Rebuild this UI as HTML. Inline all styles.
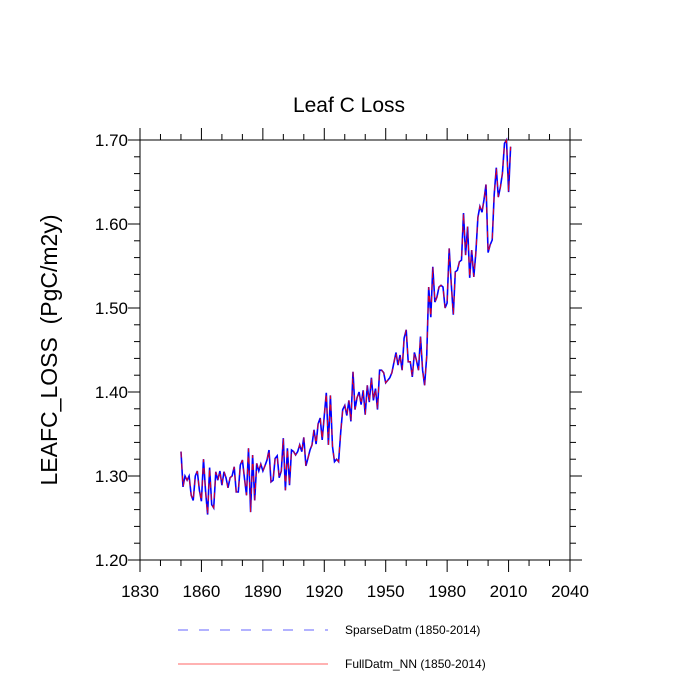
<!DOCTYPE html>
<html><head><meta charset="utf-8"><style>
body{margin:0;background:#fff;}
svg{display:block;font-family:"Liberation Sans",sans-serif;}
</style></head><body>
<svg id="chart" width="700" height="700">
<text x="349" y="112" font-size="21" text-anchor="middle">Leaf C Loss</text>
<text transform="translate(57,350) rotate(-90)" font-size="23" text-anchor="middle" style="white-space:pre" xml:space="preserve">LEAFC_LOSS  (PgC/m2y)</text>
<g id="axes"></g>
<g id="series"></g>
<g>
<line x1="178" y1="630" x2="328" y2="630" stroke="#6666ff" stroke-dasharray="10,11" stroke-width="1"/>
<text x="345" y="634" font-size="12">SparseDatm (1850-2014)</text>
<line x1="178" y1="664" x2="328" y2="664" stroke="#ff6666" stroke-width="1"/>
<text x="345" y="668" font-size="12">FullDatm_NN (1850-2014)</text>
</g>
</svg>
<script>
const startYear = 1850;
const fullValues = [1.329,1.287,1.300,1.295,1.300,1.277,1.271,1.300,1.306,1.283,1.270,1.320,1.283,1.254,1.310,1.266,1.262,1.305,1.295,1.306,
1.289,1.305,1.298,1.286,1.298,1.300,1.311,1.281,1.281,1.313,1.319,1.298,1.277,1.333,1.257,1.325,1.271,1.315,1.306,1.314,
1.306,1.312,1.319,1.331,1.293,1.295,1.321,1.324,1.298,1.306,1.345,1.283,1.333,1.289,1.331,1.329,1.325,1.329,1.337,1.329,
1.346,1.312,1.321,1.331,1.337,1.355,1.338,1.362,1.369,1.343,1.372,1.399,1.337,1.396,1.335,1.317,1.320,1.317,1.352,1.379,
1.384,1.372,1.390,1.365,1.424,1.379,1.393,1.400,1.385,1.402,1.373,1.408,1.388,1.417,1.390,1.404,1.379,1.426,1.426,1.423,
1.411,1.414,1.417,1.423,1.435,1.447,1.432,1.444,1.426,1.464,1.474,1.436,1.436,1.418,1.447,1.438,1.426,1.466,1.426,1.408,
1.442,1.525,1.489,1.549,1.507,1.513,1.525,1.527,1.525,1.500,1.506,1.571,1.530,1.492,1.543,1.545,1.555,1.557,1.613,1.563,
1.597,1.536,1.569,1.537,1.565,1.608,1.621,1.614,1.629,1.647,1.566,1.575,1.581,1.635,1.667,1.632,1.644,1.660,1.696,1.700,
1.638,1.692];
const sparseValues = fullValues.map(v => v);
const xTicks = [1830,1860,1890,1920,1950,1980,2010,2040];
const yTicks = [1.20,1.30,1.40,1.50,1.60,1.70];

const L=140,R=570,T=140,B=560,xMin=1830,xMax=2040,yMin=1.2,yMax=1.7;
const xs = y => L + (y-xMin)/(xMax-xMin)*(R-L);
const ys = v => B - (v-yMin)/(yMax-yMin)*(B-T);
const NS="http://www.w3.org/2000/svg";
function mk(tag, attrs, parent){const e=document.createElementNS(NS,tag);for(const k in attrs)e.setAttribute(k,attrs[k]);parent.appendChild(e);return e;}
const axes=document.getElementById('axes');
const frame=mk('rect',{x:L,y:T,width:R-L,height:B-T,fill:'none',stroke:'#000','stroke-width':1},axes);


for(let yr=xMin; yr<=xMax; yr+=10){
  const major=(yr-xMin)%30===0, len=major?12:6, x=xs(yr);
  const t1=mk('line',{x1:x,y1:B,x2:x,y2:B+len,stroke:'#000'},axes);
  
  
  const t2=mk('line',{x1:x,y1:T,x2:x,y2:T-len,stroke:'#000'},axes);
  
  
}
xTicks.forEach(v=>{
  const t=mk('text',{x:xs(v),y:B+37,'font-size':17,'text-anchor':'middle'},axes);t.textContent=v;
  
  
});
for(let i=0;i<=25;i++){
  const v=yMin+i*0.02, major=i%5===0, len=major?12:6, y=ys(v);
  const t1=mk('line',{x1:L,y1:y,x2:L-len,y2:y,stroke:'#000'},axes);
  
  
  const t2=mk('line',{x1:R,y1:y,x2:R+len,y2:y,stroke:'#000'},axes);
  
  
}
yTicks.forEach(v=>{
  const t=mk('text',{x:L-12,y:ys(v)+6,'font-size':17,'text-anchor':'end'},axes);t.textContent=v.toFixed(2);
  
  
});
const series=document.getElementById('series');
function pts(arr){return arr.map((v,i)=>xs(startYear+i).toFixed(1)+','+ys(v).toFixed(1)).join(' ');}
const sp=mk('polyline',{points:pts(sparseValues),fill:'none',stroke:'#0000ff','stroke-width':1.6},series);


const fl=mk('polyline',{points:pts(fullValues),fill:'none',stroke:'#ff0000','stroke-width':1,'stroke-dasharray':'6,6','stroke-opacity':0.85},series);


</script>
</body></html>
